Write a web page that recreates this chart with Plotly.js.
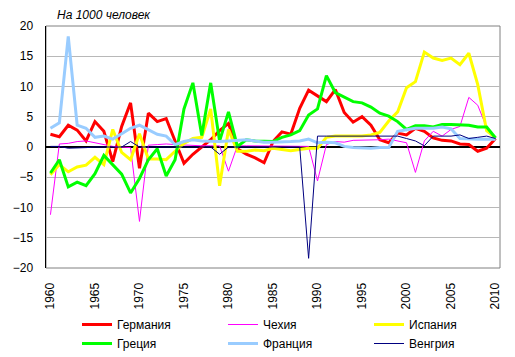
<!DOCTYPE html>
<html>
<head>
<meta charset="utf-8">
<script src="https://cdn.plot.ly/plotly-3.0.1.min.js"></script>
<style>html,body{margin:0;padding:0;background:#fff;}#chart{width:515px;height:357px;}</style>
</head>
<body>
<div id="chart"></div>
<script>
const years = [];
for (let y = 1960; y <= 2010; y++) years.push(y);

const germany = [2.1,1.7,3.6,2.8,1.0,4.2,2.6,-2.4,3.4,7.3,
  -3.5,5.6,4.2,4.7,1.0,-2.7,-1.2,0.0,1.2,2.7,
  3.9,-0.3,-1.2,-1.8,-2.6,0.9,2.5,2.1,6.4,9.4,
  8.5,7.5,9.5,5.7,4.1,5.0,3.6,1.2,0.7,2.3,
  2.0,3.1,2.6,1.5,1.1,1.0,0.5,0.4,-0.7,-0.2,1.4];
const czech = [-11.2,0.5,0.6,0.9,1.0,0.7,0.3,0.1,0.0,-0.1,
  -12.3,0.3,0.4,0.5,0.4,0.3,0.2,0.2,0.2,0.2,
  -4.0,0.2,0.2,0.2,0.2,0.2,0.2,0.2,0.2,0.1,
  -5.6,0.4,0.9,0.8,1.1,1.1,1.2,1.2,1.3,1.0,
  0.7,-4.2,1.0,2.6,1.8,2.9,3.4,8.2,6.9,3.2,1.6];
const spain = [-4.6,-2.9,-4.1,-3.3,-3.0,-1.7,-2.9,2.9,-0.9,-2.1,
  2.2,-2.0,-2.0,-2.1,-0.7,0.6,1.4,1.6,6.3,-6.4,
  2.9,-0.7,-0.7,-0.5,-0.6,-0.2,-0.4,-0.6,-0.4,-0.2,
  -0.2,1.6,1.8,1.8,1.8,1.8,2.0,2.4,4.3,5.8,
  9.8,10.8,15.7,14.7,14.3,14.7,13.6,15.5,10.3,2.7,1.5];
const greece = [-4.3,-2.1,-6.6,-5.8,-6.4,-4.4,-1.4,-3.0,-4.5,-7.6,
  -5.2,-2.1,-0.3,-4.8,-2.1,6.3,10.6,1.9,10.6,1.0,
  5.8,0.1,1.2,1.0,1.0,0.9,1.6,2.0,2.7,5.3,
  6.3,11.8,9.0,8.2,7.5,7.3,6.6,5.6,5.1,4.2,
  2.9,3.5,3.5,3.3,3.7,3.7,3.7,3.6,3.3,3.3,1.5];
const france = [3.1,4.0,18.3,3.6,3.1,1.6,1.8,1.3,2.2,3.1,
  3.6,2.9,2.1,1.8,0.4,0.9,1.2,1.0,0.9,0.9,
  1.0,1.1,1.2,1.0,0.8,0.8,0.8,0.9,1.0,1.3,
  0.7,0.8,0.7,0.1,-0.1,-0.2,-0.2,-0.1,-0.1,2.6,
  2.8,3.1,3.1,3.1,3.3,3.0,1.4,1.3,1.3,1.3,1.3];
const hungary = [0.1,0.1,-0.2,-0.2,-0.1,0.0,0.0,0.0,0.0,0.9,
  0.0,0.0,0.0,0.0,0.0,0.0,0.0,0.0,0.0,-1.2,
  0.0,0.0,0.0,0.0,0.0,0.0,0.0,0.0,0.0,-18.4,
  1.8,1.8,1.8,1.8,1.8,1.8,1.8,1.8,1.8,1.8,
  1.4,1.0,0.2,1.8,1.8,1.8,2.0,1.4,1.6,1.8,1.4];

const seriesNames = ['Германия','Чехия','Испания','Греция','Франция','Венгрия'];
const xTicks = [1960,1965,1970,1975,1980,1985,1990,1995,2000,2005,2010];
const yTicks = [-20,-15,-10,-5,0,5,10,15,20];
const titleText = 'На 1000 человек';

const FONT = 'Arial, "Liberation Sans", sans-serif';
const colors = ['#FF0000','#FF00FF','#FFFF00','#00FF00','#99CCFF','#000080'];
const widths = [3,1,3,3,3,1];
const legendIds = ['legend','legend2','legend3','legend','legend2','legend3'];
const data = [germany, czech, spain, greece, france, hungary];

const traces = data.map((vals, i) => ({
  type: 'scatter', mode: 'lines', x: years, y: vals, name: seriesNames[i],
  legend: legendIds[i],
  line: {color: colors[i], width: widths[i]}
}));

function legendAt(px) {
  return {orientation: 'v', x: (px - 46) / 454, xanchor: 'left', y: (268 - 310) / 242, yanchor: 'top',
    traceorder: 'normal', font: {family: FONT, size: 12, color: '#000'}, bgcolor: 'rgba(0,0,0,0)', borderwidth: 0};
}

const layout = {
  width: 515, height: 357,
  margin: {l: 46, r: 15, t: 26, b: 89, autoexpand: false},
  paper_bgcolor: '#fff', plot_bgcolor: '#fff',
  font: {family: FONT, size: 12, color: '#000'},
  showlegend: true,
  title: {text: titleText, x: 57/515, xanchor: 'left', xref: 'container', y: 1 - 15/357, yanchor: 'middle', yref: 'container',
    font: {family: FONT, size: 12, style: 'italic', color: '#000'}},
  xaxis: {type: 'linear', range: [1959.5, 2010.5], tickvals: xTicks, ticktext: xTicks.map(String), tickangle: -90,
    showgrid: false, zeroline: false, showline: false, ticks: 'outside', ticklen: 9, tickcolor: 'rgba(0,0,0,0)',
    tickfont: {family: FONT, size: 12, color: '#000'}},
  yaxis: {range: [-20, 20], tickvals: yTicks, showgrid: true, gridcolor: '#b8b8b8', gridwidth: 1,
    zeroline: true, zerolinecolor: '#000', zerolinewidth: 1.5,
    showline: true, linecolor: '#000', linewidth: 1.5,
    ticks: 'outside', ticklen: 9, tickcolor: 'rgba(0,0,0,0)',
    tickfont: {family: FONT, size: 12, color: '#000'}},
  shapes: [{type: 'rect', xref: 'paper', yref: 'paper', x0: 0, x1: 1, y0: 0, y1: 1,
    line: {color: '#808080', width: 1}, layer: 'below'}],
  legend: legendAt(77),
  legend2: legendAt(223),
  legend3: legendAt(369)
};

Plotly.newPlot('chart', traces, layout, {displayModeBar: false, staticPlot: true});
</script>
</body>
</html>
